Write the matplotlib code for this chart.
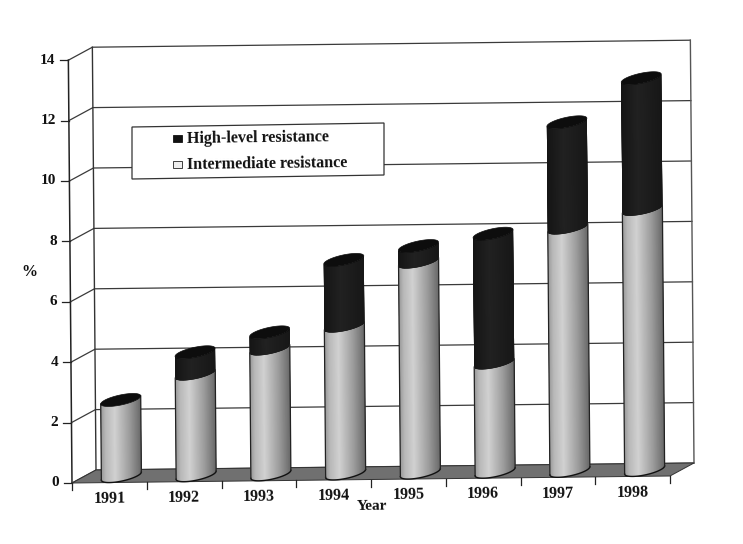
import numpy as np
import matplotlib
matplotlib.use('Agg')
import matplotlib.pyplot as plt
from matplotlib.collections import PolyCollection
from matplotlib.patches import Polygon

years = ['1991', '1992', '1993', '1994', '1995', '1996', '1997', '1998']
intermediate = [2.52, 3.35, 4.15, 4.88, 6.97, 3.6, 8.04, 8.63]
high_level = [0.0, 0.72, 0.55, 2.19, 0.53, 4.28, 3.5, 4.34]
y_ticks = [0, 2, 4, 6, 8, 10, 12, 14]
legend_labels = ['High-level resistance', 'Intermediate resistance']

plt.rcParams['font.family'] = ['Liberation Serif', 'DejaVu Serif']
TEXT = '#111111'


def project(x, y, d=0.0):
    # category x, value y, depth d (0 front, 1 back) -> scan pixels
    x, y, d = np.asarray(x, float), np.asarray(y, float), np.asarray(d, float)
    return 72 + 74.75 * x - 0.26 * y + 24 * d, 483 - 0.875 * x - 30.2 * y - 13 * d


fig = plt.figure(figsize=(7.43, 5.44), dpi=100)
ax = fig.add_axes([0, 0, 1, 1])
ax.set_xlim(0, 743)
ax.set_ylim(544, 0)
ax.axis('off')

# back wall and left wall
ax.plot(*project([0, 0], [0, 14], [1, 1]), color='#333333', lw=1)
ax.plot(*project([8, 8], [0, 14], [1, 1]), color='#555555', lw=1)
ax.plot(*project([0, 0], [0, 14]), color='#222222', lw=1.1)

for v in y_ticks:
    gx, gy = project([0, 0, 8], [v, v, v], [0, 1, 1])
    ax.plot(gx, gy, color='#3a3a3a', lw=0.9, zorder=1)
    tx, ty = project([0, 0], [v, v])
    ax.plot([tx[0] - 8, tx[0]], [ty[0], ty[0]], color='#222222', lw=0.9)
    ax.text(tx[0] - 13, ty[0], str(v), ha='right', va='center', fontsize=11,
            fontweight='bold', color=TEXT)

# floor
fx, fy = project([0, 8, 8, 0], [0, 0, 0, 0], [0, 0, 1, 1])
ax.fill(fx, fy, facecolor='#707070', edgecolor='#333333', lw=0.7, zorder=2)

# x ticks
for i in range(len(years) + 1):
    tx, ty = project(i, 0)
    ax.plot([tx, tx], [ty, ty + 7], color='#222222', lw=0.9, zorder=2)
for i, year in enumerate(years):
    tx, ty = project(i + 0.5, 0)
    ax.text(tx, ty + 16, year, ha='center', va='center', fontsize=11.5,
            fontweight='bold', color=TEXT, rotation=0.7)

ax.text(372, 506, 'Year', ha='center', va='center', fontsize=11,
        fontweight='bold', color=TEXT, rotation=0.7)
ax.text(29, 272, '%', ha='center', va='center', fontsize=11.5, fontweight='bold', color=TEXT)

# cylinder geometry
RU, RV = 0.214, 0.5
t_left = np.pi + np.arctan2(RV * 24, RU * 74.75)
ts = np.linspace(t_left, t_left + np.pi, 61)


def ellipse_xy(cx, y, t):
    return project(cx + RU * np.cos(t), y, 0.5 + RV * np.sin(t))


def shade_light(f):
    return np.interp(f, [0, 0.12, 0.35, 0.7, 1], [0.58, 0.72, 0.82, 0.62, 0.42])


def shade_dark(f):
    return np.interp(f, [0, 0.4, 1], [0.08, 0.13, 0.09])


def draw_segment(cx, y0, y1, shade, z):
    if y1 <= y0:
        return
    bx, by = ellipse_xy(cx, y0, ts)
    tx, ty = ellipse_xy(cx, y1, ts)
    polys, cols = [], []
    for k in range(len(ts) - 1):
        polys.append([(bx[k], by[k]), (bx[k + 1], by[k + 1]), (tx[k + 1], ty[k + 1]), (tx[k], ty[k])])
        g = float(shade((bx[k] - bx[0]) / (bx[-1] - bx[0])))
        cols.append((g, g, g))
    coll = PolyCollection(polys, facecolors=cols, edgecolors=cols, linewidths=0.8, zorder=z)
    ax.add_collection(coll)
    # keep the strip edges inside the cylinder outline
    outline = np.column_stack([np.r_[bx, tx[::-1]], np.r_[by, ty[::-1]]])
    coll.set_clip_path(Polygon(outline, transform=ax.transData))


for i in range(len(years)):
    cx = i + 0.5
    z = 3 + i * 0.01
    mid, top = intermediate[i], intermediate[i] + high_level[i]
    draw_segment(cx, 0, mid, shade_light, z)
    draw_segment(cx, mid, top, shade_dark, z)
    # outline
    bx, by = ellipse_xy(cx, 0, ts)
    tx, ty = ellipse_xy(cx, mid, ts)
    ax.plot(bx, by, color='#111111', lw=1, zorder=z + 0.001)
    ax.plot([bx[0], tx[0]], [by[0], ty[0]], color='#222222', lw=0.9, zorder=z + 0.001)
    ax.plot([bx[-1], tx[-1]], [by[-1], ty[-1]], color='#222222', lw=0.9, zorder=z + 0.001)
    # top cap
    full = np.linspace(0, 2 * np.pi, 80)
    cap_x, cap_y = ellipse_xy(cx, top, full)
    ax.fill(cap_x, cap_y, facecolor='#0d0d0d', edgecolor='#0d0d0d', lw=0.5, zorder=z + 0.002)

# legend
ax.fill([132, 384, 384, 132], [127, 123, 175, 179], facecolor='white', edgecolor='#333333', lw=0.9, zorder=6)
ax.fill([173, 182, 182, 173], [135, 135, 142, 142], facecolor='#111111', edgecolor='#111111', lw=0.6, zorder=7)
ax.fill([173, 182, 182, 173], [161, 161, 168, 168], facecolor='#eeeeee', edgecolor='#222222', lw=0.6, zorder=7)
ax.text(187, 138.5, legend_labels[0], ha='left', va='center', fontsize=11.6, fontweight='bold',
        color=TEXT, rotation=0.7, zorder=7)
ax.text(187, 164.5, legend_labels[1], ha='left', va='center', fontsize=11.6, fontweight='bold',
        color=TEXT, rotation=0.7, zorder=7)

fig.savefig('out.png', dpi=100)
